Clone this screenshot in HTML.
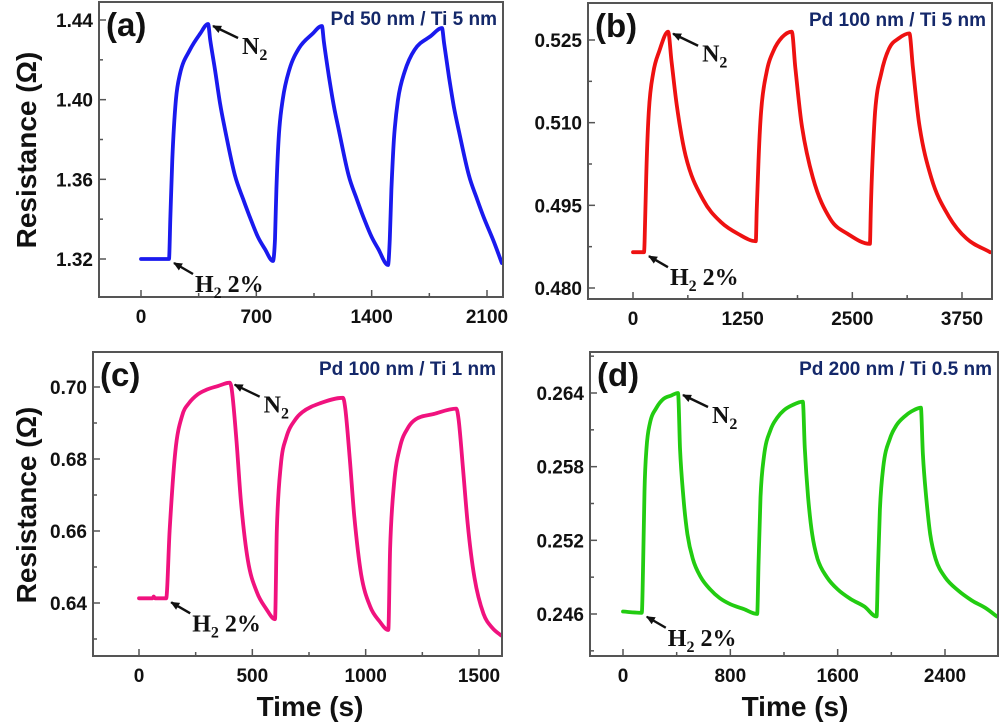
<!DOCTYPE html>
<html><head><meta charset="utf-8"><style>
body{margin:0;background:#fff}
svg{display:block}
.tk{font-family:"Liberation Sans",sans-serif;font-weight:bold;font-size:19px;fill:#111}
.ttl{font-family:"Liberation Sans",sans-serif;font-weight:bold;font-size:19px;fill:#14286a}
.lbl{font-family:"Liberation Sans",sans-serif;font-weight:bold;font-size:33px;fill:#111}
.ann{font-family:"Liberation Serif",serif;font-weight:bold;font-size:24px;fill:#111}
.axt{font-family:"Liberation Sans",sans-serif;font-weight:bold;font-size:28px;fill:#111}
</style></head><body>
<svg id="fig" width="1000" height="727" viewBox="0 0 1000 727">
<defs><marker id="ah" markerWidth="9" markerHeight="8" refX="8" refY="4" orient="auto" markerUnits="userSpaceOnUse"><path d="M0,0 L9,4 L0,8 z" fill="#111"/></marker></defs>
<text class="axt" transform="translate(36,150) rotate(-90)" text-anchor="middle">Resistance (Ω)</text>
<text class="axt" transform="translate(36,505) rotate(-90)" text-anchor="middle">Resistance (Ω)</text>
<text class="axt" x="310" y="716" text-anchor="middle">Time (s)</text>
<text class="axt" x="795" y="716" text-anchor="middle">Time (s)</text>
</svg>
<script>
// Panel (a) data
const aTime=[0,170,178,190,212,237,297,358,407,420,449,480,510,570,620,661,710,752,801,813,822,835,860,900,960,1040,1098,1110,1140,1170,1200,1260,1310,1350,1400,1440,1499,1510,1520,1535,1560,1600,1660,1760,1827,1840,1870,1900,1930,1990,2040,2080,2140,2190];
const aRes=[1.32,1.32,1.34,1.37,1.40,1.413,1.425,1.433,1.438,1.43,1.415,1.398,1.385,1.362,1.35,1.341,1.331,1.325,1.319,1.33,1.355,1.38,1.40,1.415,1.426,1.433,1.437,1.429,1.412,1.397,1.385,1.362,1.35,1.341,1.331,1.325,1.317,1.33,1.355,1.38,1.40,1.414,1.425,1.432,1.436,1.428,1.411,1.396,1.384,1.362,1.35,1.341,1.329,1.318];
const aXTicks=[0,700,1400,2100];
const aYTicks=[1.32,1.36,1.40,1.44];
// Panel (b) data
const bTime=[0,125,135,150,180,230,300,400,440,500,600,800,1000,1200,1400,1410,1430,1460,1520,1600,1700,1810,1850,1920,2050,2250,2450,2700,2710,2730,2760,2830,2920,3030,3150,3190,3260,3400,3600,3800,4070];
const bRes=[0.4865,0.4865,0.490,0.500,0.512,0.519,0.523,0.5265,0.521,0.513,0.504,0.496,0.492,0.4898,0.4885,0.494,0.503,0.512,0.519,0.523,0.5255,0.5265,0.520,0.510,0.500,0.4925,0.4898,0.488,0.494,0.503,0.512,0.519,0.5235,0.5253,0.5262,0.520,0.510,0.500,0.493,0.489,0.4865];
const bXTicks=[0,1250,2500,3750];
const bYTicks=[0.480,0.495,0.510,0.525];
// Panel (c) data
const cTime=[0,60,65,70,120,135,160,190,220,260,300,350,400,410,430,450,480,520,560,600,608,625,650,690,720,800,900,910,930,950,980,1020,1060,1100,1108,1125,1150,1190,1220,1300,1400,1410,1430,1450,1480,1520,1560,1600];
const cRes=[0.6413,0.6413,0.6418,0.6413,0.6413,0.66,0.682,0.692,0.6955,0.698,0.6993,0.7003,0.7012,0.699,0.685,0.668,0.652,0.643,0.6385,0.6355,0.66,0.678,0.686,0.691,0.693,0.6955,0.697,0.694,0.68,0.664,0.648,0.639,0.635,0.6325,0.655,0.673,0.683,0.689,0.691,0.6925,0.694,0.691,0.677,0.662,0.647,0.637,0.633,0.631];
const cXTicks=[0,500,1000,1500];
const cYTicks=[0.64,0.66,0.68,0.70];
// Panel (d) data
const dTime=[0,140,150,160,175,200,250,300,360,410,425,450,480,520,580,650,720,800,900,1000,1010,1025,1050,1100,1150,1200,1260,1340,1355,1380,1410,1450,1520,1600,1700,1800,1890,1900,1915,1940,1990,2040,2100,2150,2220,2235,2260,2290,2330,2400,2500,2600,2700,2800];
const dRes=[0.2462,0.2461,0.250,0.256,0.2595,0.2615,0.2628,0.2635,0.2638,0.264,0.2595,0.2555,0.2525,0.2505,0.249,0.248,0.2473,0.2468,0.2464,0.246,0.250,0.2555,0.2588,0.261,0.262,0.2626,0.263,0.2633,0.2595,0.2555,0.2525,0.2505,0.249,0.248,0.2472,0.2466,0.2458,0.2495,0.2545,0.258,0.2603,0.2614,0.2621,0.2625,0.2628,0.259,0.2555,0.2525,0.2505,0.249,0.2479,0.2471,0.2465,0.2458];
const dYTicks=[0.246,0.252,0.258,0.264];
const dXTicks=[0,800,1600,2400];

const NS="http://www.w3.org/2000/svg";
const svg=document.getElementById('fig');
function mk(tag,attrs,parent){const e=document.createElementNS(NS,tag);for(const k in attrs)e.setAttribute(k,attrs[k]);(parent||svg).appendChild(e);return e;}

function monoPath(X,Y){
  const n=X.length,d=[],m=new Array(n);
  for(let i=0;i<n-1;i++)d.push((Y[i+1]-Y[i])/(X[i+1]-X[i]));
  m[0]=d[0];m[n-1]=d[n-2];
  for(let i=1;i<n-1;i++){m[i]=(d[i-1]*d[i]<=0)?0:(d[i-1]+d[i])/2;}
  for(let i=0;i<n-1;i++){if(d[i]===0){m[i]=0;m[i+1]=0;continue;}const a=m[i]/d[i],b=m[i+1]/d[i],s=a*a+b*b;if(s>9){const t=3/Math.sqrt(s);m[i]=t*a*d[i];m[i+1]=t*b*d[i];}}
  let p='M'+X[0].toFixed(1)+','+Y[0].toFixed(1);
  for(let i=0;i<n-1;i++){const h=(X[i+1]-X[i])/3;p+='C'+(X[i]+h).toFixed(1)+','+(Y[i]+m[i]*h).toFixed(1)+' '+(X[i+1]-h).toFixed(1)+','+(Y[i+1]-m[i+1]*h).toFixed(1)+' '+X[i+1].toFixed(1)+','+Y[i+1].toFixed(1);}
  return p;
}

function panel(id,P,times,vals,xt,yt,dec,color,label,title,peakIdx,riseIdx){
  const g=mk('g',{});
  
  
  const sx=t=>P.x0+(t-xt[0])*(P.x1-P.x0)/(xt[xt.length-1]-xt[0]);
  const sy=v=>P.y0+(v-yt[0])*(P.y1-P.y0)/(yt[yt.length-1]-yt[0]);
  const xs=[];for(let i=0;i<xt.length;i++){xs.push(xt[i]);if(i<xt.length-1)xs.push((xt[i]+xt[i+1])/2);}
  xs.push(xt[xt.length-1]+(xt[1]-xt[0])/2);
  xs.forEach(t=>{const x=sx(t);if(x<P.L+2||x>P.R-2)return;const major=xt.includes(t);const l=mk('line',{x1:x,x2:x,y1:P.B,y2:P.B-(major?7:4),stroke:'#555','stroke-width':1.5},g);
    
    });
  xt.forEach(t=>{const tx=mk('text',{x:sx(t),y:P.B+26,'text-anchor':'middle',class:'tk'},g);tx.textContent=t;
    
    });
  const ys=[];for(let i=0;i<yt.length;i++){ys.push(yt[i]);if(i<yt.length-1)ys.push((yt[i]+yt[i+1])/2);}
  ys.push(yt[0]-(yt[1]-yt[0])/2);ys.push(yt[yt.length-1]+(yt[1]-yt[0])/2);
  ys.forEach(v=>{const y=sy(v);if(y<P.T+2||y>P.B-2)return;const major=yt.some(q=>Math.abs(q-v)<1e-9);const l=mk('line',{x1:P.L,x2:P.L+(major?7:4),y1:y,y2:y,stroke:'#555','stroke-width':1.5},g);
    
    });
  yt.forEach(v=>{const tx=mk('text',{x:P.L-6,y:sy(v)+7,'text-anchor':'end',class:'tk'},g);tx.textContent=v.toFixed(dec);
    
    });
  const X=times.map(t=>Math.min(sx(t),P.R-1)),Y=vals.map(sy);
  const path=mk('path',{d:monoPath(X,Y),fill:'none',stroke:color,'stroke-width':3.8,'stroke-linejoin':'round','stroke-linecap':'round'},g);
  
  
  const fr=mk('rect',{x:P.L,y:P.T,width:P.R-P.L,height:P.B-P.T,fill:'none',stroke:'#555','stroke-width':2},g);
  
  
  const lb=mk('text',{x:P.L+7,y:P.T+34,class:'lbl'},g);lb.textContent=label;
  
  
  const tt=mk('text',{x:P.R-6,y:P.T+23,'text-anchor':'end',class:'ttl'},g);tt.textContent=title;
  
  
  const px=sx(times[peakIdx]),py=sy(vals[peakIdx]);
  const a1=mk('line',{x1:px+30,y1:py+14,x2:px+5,y2:py+2,stroke:'#111','stroke-width':2.4,'marker-end':'url(#ah)'},g);
  
  
  const n=mk('text',{x:px+34,y:py+30,class:'ann'},g);n.innerHTML='N<tspan font-size="16" dy="6">2</tspan>';
  
  
  const rx=sx(times[riseIdx]),ry=sy(vals[riseIdx]);
  const a2=mk('line',{x1:rx+24,y1:ry+15,x2:rx+5,y2:ry+4,stroke:'#111','stroke-width':2.4,'marker-end':'url(#ah)'},g);
  
  
  const h=mk('text',{x:rx+26,y:ry+33,class:'ann'},g);h.innerHTML='H<tspan font-size="16" dy="6">2</tspan><tspan dy="-6"> 2%</tspan>';
  
  
}
panel('a',{L:99,R:503,T:2,B:297,x0:141,x1:487,y0:259,y1:20},aTime,aRes,aXTicks,aYTicks,2,'#1a1aee','(a)','Pd 50 nm / Ti 5 nm',8,1);
panel('b',{L:588,R:992,T:3,B:299,x0:633,x1:962,y0:288,y1:40},bTime,bRes,bXTicks,bYTicks,3,'#ee1111','(b)','Pd 100 nm / Ti 5 nm',7,1);
panel('c',{L:93,R:502,T:352,B:656,x0:139,x1:479,y0:603,y1:387},cTime,cRes,cXTicks,cYTicks,2,'#f0127e','(c)','Pd 100 nm / Ti 1 nm',12,4);
panel('d',{L:590,R:998,T:352,B:656,x0:623,x1:945,y0:614,y1:393},dTime,dRes,dXTicks,dYTicks,3,'#22cc11','(d)','Pd 200 nm / Ti 0.5 nm',9,1);
</script>
</body></html>
